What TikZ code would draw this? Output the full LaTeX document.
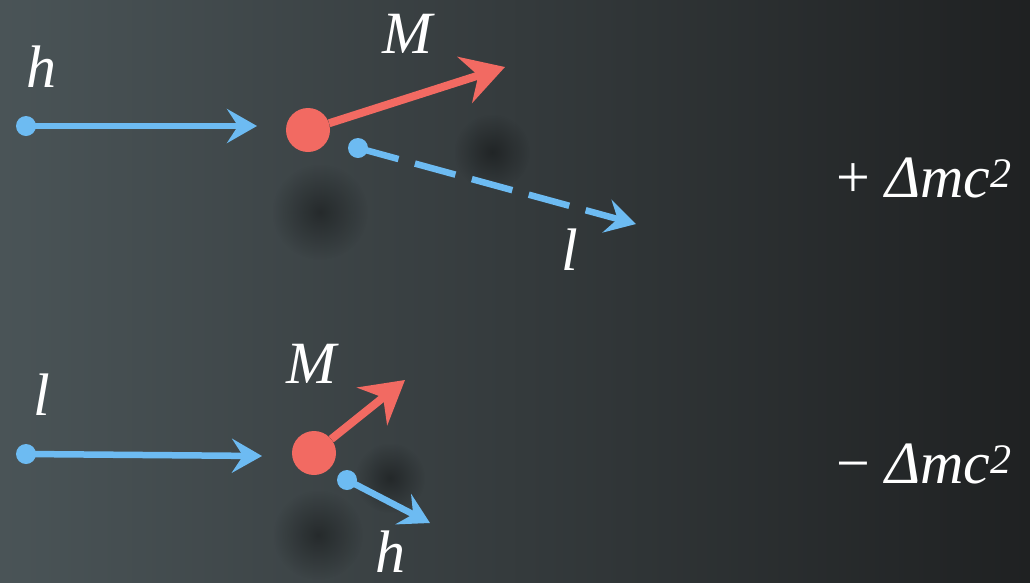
\documentclass[tikz,border=0pt]{standalone}
\usepackage{fontspec}
\setmainfont{Liberation Serif}
\newfontfamily\lblfont{Liberation Serif Italic}
\newfontfamily\lblup{Liberation Serif}
\usepackage{xcolor}
\usetikzlibrary{arrows.meta, positioning, fadings}

\definecolor{pblue}{HTML}{6DBBF2}
\definecolor{pred}{HTML}{F26A62}
\definecolor{bgleft}{HTML}{4A5457}
\definecolor{bgmid}{HTML}{3C4345}
\definecolor{bgright}{HTML}{1F2122}

\tikzfading[name=softblob, inner color=transparent!62, outer color=transparent!100]

\begin{document}
\begin{tikzpicture}[x=1pt, y=-1pt,
    bdot/.style={circle, fill=pblue, inner sep=0pt, minimum size=20pt},
    rdot/.style={circle, fill=pred, inner sep=0pt, minimum size=44pt},
    barr/.style={-{Stealth[length=30pt, width=34pt, inset=11pt]}, pblue, line width=6.5pt},
    rarr/.style={-{Stealth[length=42pt, width=48pt, inset=14pt]}, pred, line width=8pt},
    lbl/.style={text=white, font=\fontsize{60}{70}\selectfont\lblfont, inner sep=0pt, anchor=base},
    blob/.style={black, path fading=softblob},
]

% background
\useasboundingbox (0,0) rectangle (1030,582);
\shade[left color=bgleft, middle color=bgmid, right color=bgright] (0,0) rectangle (1030,582);
\fill[blob] (320,212) circle (48);
\fill[blob] (492,152) circle (38);
\fill[blob] (318,535) circle (45);
\fill[blob] (390,478) circle (35);

% Top: h in, M and l out
\node[bdot] (hin) at (26,126) {};
\coordinate (hinend) at (257,126);
\node[rdot] (mtop) at (308,130) {};
\coordinate (mtoptip) at (505,67);
\node[bdot] (lout) at (358,148) {};
\coordinate (louttip) at (636,224);

\draw[barr] (hin.center) -- (hinend);
\draw[rarr] (mtop) -- (mtoptip);
\draw[barr, dash pattern=on 42pt off 17pt] (lout.center) -- (louttip);

\node[lbl] (hlabel) at (42,87) {h};
\node[lbl] (mtoplabel) at (407,53) {M};
\node[lbl] (llabel) at (570,270) {l};
\node[lbl, anchor=base east] (plus) at (1012,197) {{\lblup+} Δmc\textsuperscript{2}};

% Bottom: l in, M and h out
\node[bdot] (lin) at (26,454) {};
\coordinate (linend) at (262,456);
\node[rdot] (mbot) at (314,453) {};
\coordinate (mbottip) at (405,380);
\node[bdot] (hout) at (347,480) {};
\coordinate (houttip) at (430,523);

\draw[barr] (lin.center) -- (linend);
\draw[rarr] (mbot) -- (mbottip);
\draw[barr] (hout.center) -- (houttip);

\node[lbl] (llabel2) at (42,415) {l};
\node[lbl] (mbotlabel) at (311,383) {M};
\node[lbl] (hlabel2) at (390,572) {h};
\node[lbl, anchor=base east] (minus) at (1012,483) {{\lblup\textminus} Δmc\textsuperscript{2}};

\end{tikzpicture}
\end{document}
